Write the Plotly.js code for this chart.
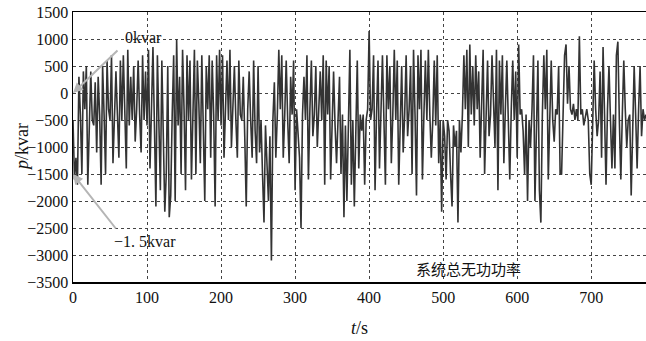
<!DOCTYPE html>
<html>
<head>
<meta charset="utf-8">
<script src="https://cdn.plot.ly/plotly-3.0.1.min.js"></script>
<style>html,body{margin:0;padding:0;background:#fff;}#chart{width:646px;height:341px;}</style>
</head>
<body>
<div id="chart"></div>
<script>
// sampling step of the series (s)
const timeStep = 2;
// system total reactive power (kvar), one value every 2 s starting at t = 0
const reactivePower = [
  -500,-1600,-1200,-1700,300,-400,-1500,400,-300,500,
  -1700,-300,400,-500,-600,200,-1100,300,-400,-1700,
  500,-400,-1500,600,-300,-500,700,-1300,-200,400,
  -400,-1200,600,-500,700,-300,-1400,800,-600,300,
  -500,500,-900,-300,600,-400,-1100,700,-500,400,
  -600,800,-1400,-300,850,-600,-2100,700,-500,-1800,
  600,-700,-2200,-1500,500,-2300,-1900,-400,700,-2000,
  1000,-600,300,-1500,800,-300,-1800,700,-500,600,
  -1600,-400,800,-1500,600,-200,-1300,700,-500,-2000,
  500,-300,700,-1200,600,-400,-2100,700,-500,800,
  -600,700,-1200,-400,600,-500,800,-1000,-300,500,
  -500,-1200,600,-400,-500,300,-800,-2100,-300,400,
  -500,-1200,600,-700,-1300,500,-1100,-500,-1500,-2400,
  -600,-1400,-2000,-800,-3100,-500,200,-1200,-400,800,
  -300,700,-1200,-400,600,-500,-1300,300,-400,600,
  -1800,-300,-700,-1200,-2500,-400,300,-500,700,-1600,
  -300,600,-800,-400,500,-1000,-300,400,-500,700,
  -1700,600,-400,500,-1600,-300,400,-600,-1300,-500,
  300,-1500,-400,-2300,-600,-2000,-300,800,-1700,-500,
  -2100,-300,600,-1400,-400,-700,-400,-1700,-500,-300,
  1150,-500,-300,700,-1800,-400,600,-1400,-300,700,
  -500,-1700,700,-300,500,-1300,-400,800,-500,600,
  -1700,-300,500,-1100,-400,700,-800,-300,500,-1500,
  800,-400,-1900,700,-300,800,-1600,-400,600,-500,
  800,-400,-1200,-500,600,-600,700,-1300,-500,-2200,
  -500,-800,-1600,-500,-700,-1500,-2100,-600,-1000,-700,
  -2400,-500,-1100,-400,700,-300,800,-1000,900,-400,
  500,-600,700,-300,400,-1200,-400,800,-1500,-300,
  600,-800,-400,700,-300,-1000,800,-1800,600,-400,
  700,-1300,-300,600,-500,-1600,-300,600,-500,400,
  -1200,900,-400,-300,-700,-1500,-400,-2000,-500,-1000,
  -300,700,-2000,-500,600,-1800,-2400,-400,700,-300,
  800,-1600,-400,600,-500,-900,-300,-400,500,-1500,
  -1500,-300,700,900,-200,500,-300,-400,-200,-500,
  -300,-500,1050,-400,-300,-600,-400,-300,-500,-1500,
  -1700,-400,600,-300,-800,-500,400,-1200,850,-400,
  -1700,-300,500,-500,-1400,-400,-1400,700,950,-500,
  -1600,-400,600,-300,-1000,-500,-400,-1900,-300,500,
  -400,-1400,-300,500,-800,-300,-500,-400
];
const timeSec = reactivePower.map((v, i) => i * timeStep);
// tick labels
const xTicks = [0, 100, 200, 300, 400, 500, 600, 700];
const yTicks = [1500, 1000, 500, 0, -500, -1000, -1500, -2000, -2500, -3000, -3500];
// annotations: marked levels
const markLevels = [0, -1500];
const markLabels = ['0kvar', '\u22121. 5kvar'];
const seriesName = '系统总无功功率';
const xTitle = '<i>t</i>/s';
const yTitle = '<i>p</i>/kvar';

const serif = 'Liberation Serif';
const trace = {
  x: timeSec, y: reactivePower, type: 'scatter', mode: 'lines',
  line: {color: '#333333', width: 1.6}, hoverinfo: 'skip'
};
const gridStyle = {showgrid: true, gridcolor: '#444', griddash: 'dot', gridwidth: 1};
const layout = {
  width: 646, height: 341,
  margin: {l: 73, r: 0, t: 12, b: 59},
  paper_bgcolor: '#fff', plot_bgcolor: '#fff',
  showlegend: false,
  font: {family: serif, size: 16, color: '#111'},
  xaxis: Object.assign({
    range: [0, 774], tickvals: xTicks, ticktext: xTicks.map(String),
    showline: true, linecolor: '#000', linewidth: 1.5, mirror: true,
    zeroline: false, ticks: '', ticklen: 0,
    tickfont: {family: serif, size: 16, color: '#111'},
    title: {text: xTitle, font: {family: serif, size: 18}, standoff: 16}
  }, gridStyle),
  yaxis: Object.assign({
    range: [-3500, 1500], tickvals: yTicks, ticktext: yTicks.map(v => v < 0 ? '\u2212' + Math.abs(v) : String(v)),
    showline: true, linecolor: '#000', linewidth: 1.5, mirror: true,
    zeroline: false, ticks: '',
    tickfont: {family: serif, size: 16, color: '#111'}
  }, gridStyle),
  annotations: [
    {x: -0.089, y: 0.5, xref: 'paper', yref: 'paper', text: yTitle, textangle: -90,
     showarrow: false, xanchor: 'center', yanchor: 'middle', font: {family: serif, size: 18, color: '#111'}},
    {x: 0, y: markLevels[0], xref: 'x', yref: 'y', text: '', showarrow: true,
     ax: 46, ay: -44, arrowcolor: '#b5b5b5', arrowwidth: 2, arrowhead: 2, arrowsize: 1},
    {x: 0, y: markLevels[0], xref: 'x', yref: 'y', text: markLabels[0], showarrow: false,
     xshift: 70, yshift: 56, font: {family: serif, size: 16, color: '#111'}},
    {x: 0, y: markLevels[1], xref: 'x', yref: 'y', text: '', showarrow: true,
     ax: 44, ay: 56, arrowcolor: '#b5b5b5', arrowwidth: 2, arrowhead: 2, arrowsize: 1},
    {x: 0, y: markLevels[1], xref: 'x', yref: 'y', text: markLabels[1], showarrow: false,
     xshift: 72, yshift: -67, font: {family: serif, size: 16, color: '#111'}},
    {x: 0.69, y: 0.0, xref: 'paper', yref: 'paper', xanchor: 'center', yanchor: 'bottom',
     text: seriesName, showarrow: false, yshift: 1,
     font: {family: 'Noto Sans CJK SC', size: 15, color: '#111'}}
  ]
};
Plotly.newPlot('chart', [trace], layout, {staticPlot: true, displayModeBar: false});
</script>
</body>
</html>
